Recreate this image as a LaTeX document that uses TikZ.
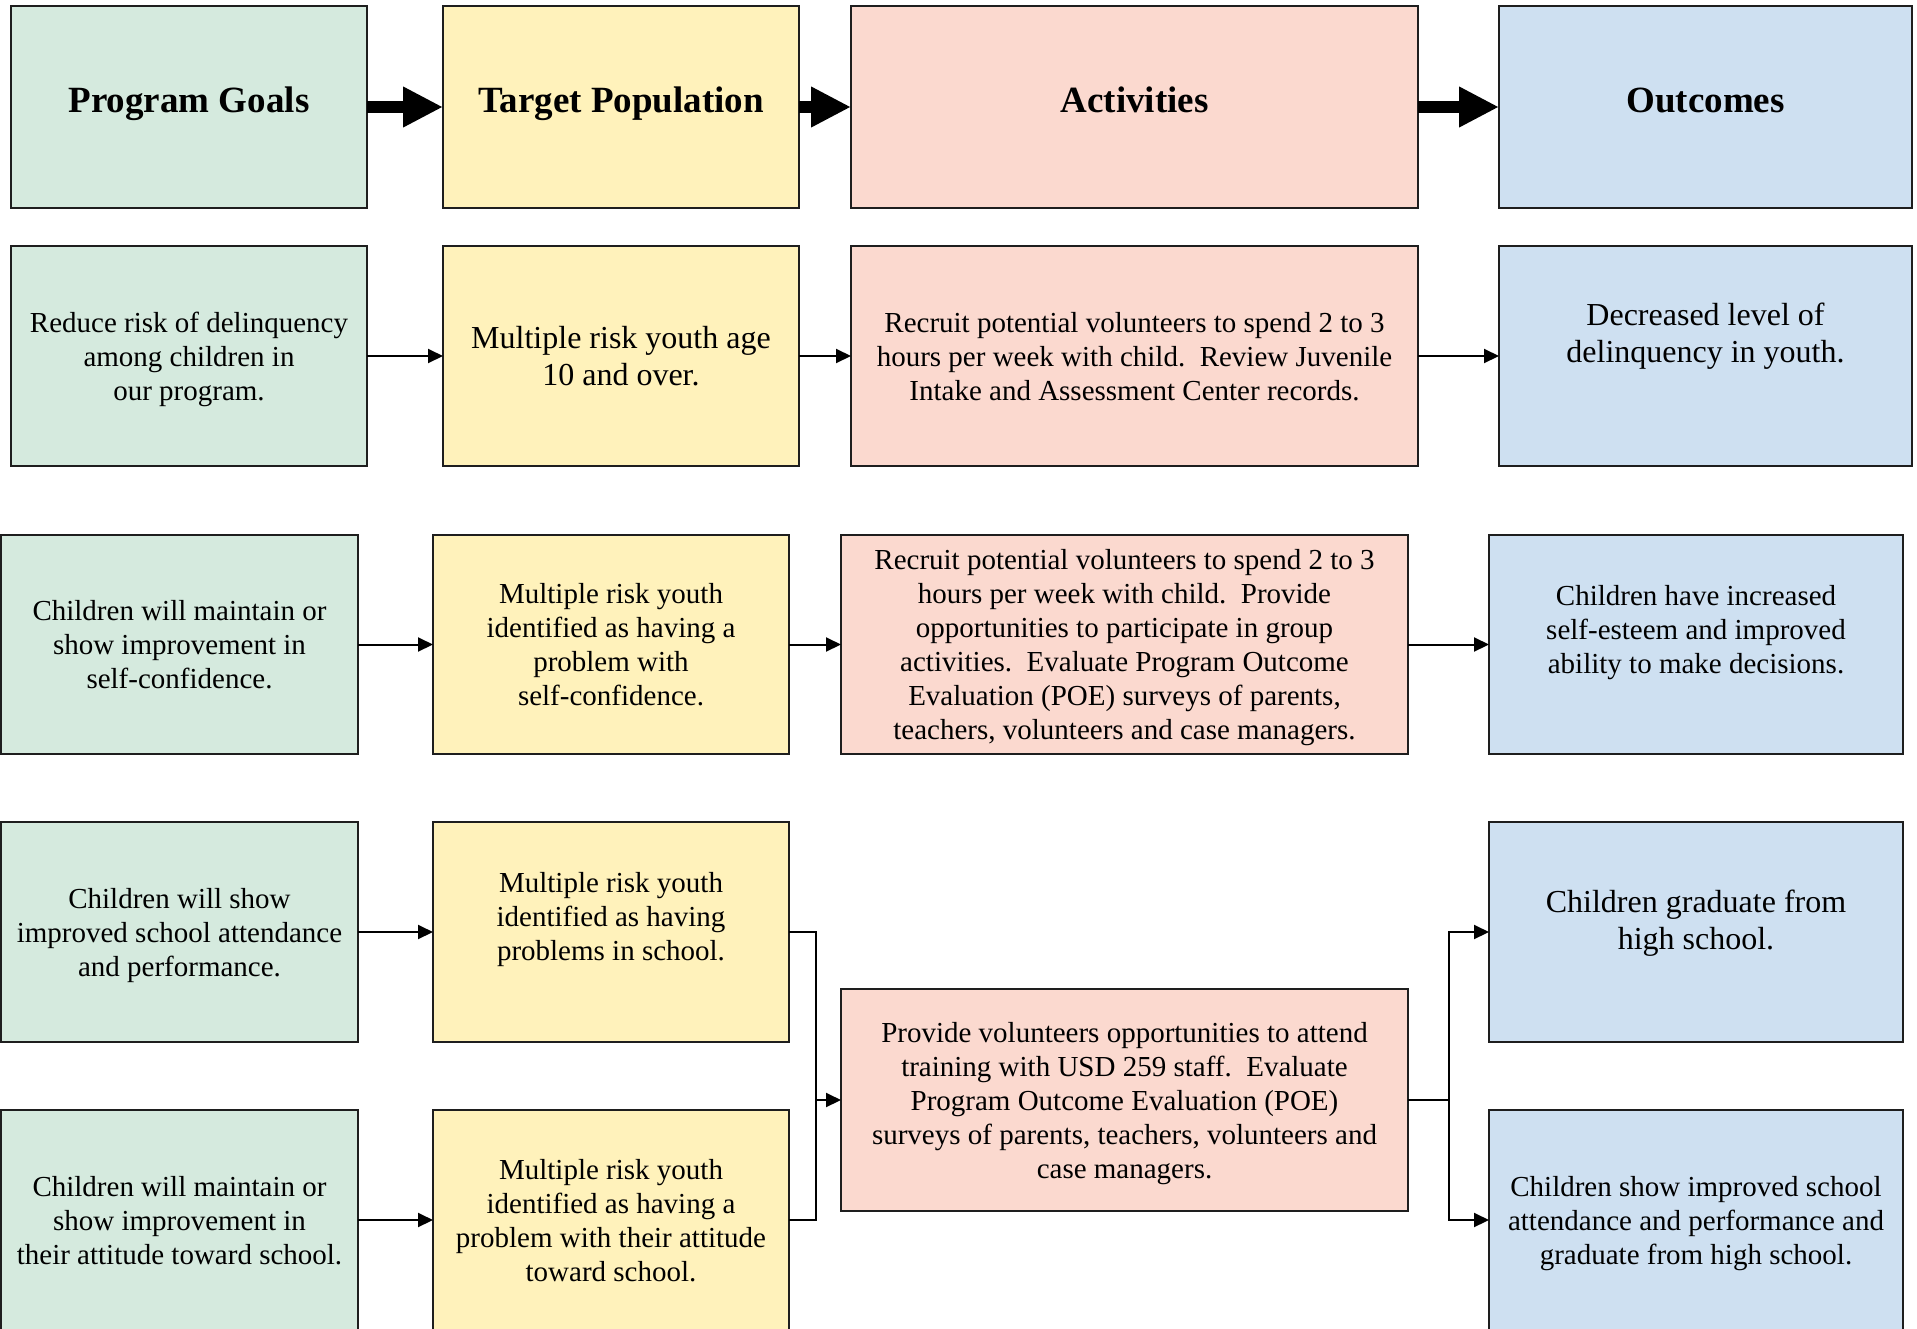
\documentclass[tikz,border=0pt]{standalone}
\usepackage{fontspec}
\setmainfont{Liberation Serif}
\usetikzlibrary{arrows.meta}
\definecolor{cg}{RGB}{213,234,222}
\definecolor{cy}{RGB}{255,242,187}
\definecolor{cr}{RGB}{251,217,207}
\definecolor{cb}{RGB}{206,224,241}
\definecolor{edge}{RGB}{30,30,30}
\tikzset{
  box/.style={draw=edge, line width=2pt, anchor=north west, inner sep=0pt, outer sep=0pt,
    align=center, font=\fontsize{29}{34}\selectfont, text=black, text depth=0pt},
  bigtxt/.style={font=\fontsize{32}{37}\selectfont},
  headtxt/.style={font=\fontsize{37}{42}\selectfont\bfseries, text height=26pt, text depth=14.5pt},
  gb/.style={box, fill=cg},
  yb/.style={box, fill=cy},
  rb/.style={box, fill=cr},
  bb/.style={box, fill=cb},
  fatarrow/.style={line width=12.7pt, draw=black, -{Triangle[length=40pt,width=38pt]}},
  thinarrow/.style={line width=2pt, draw=black, -{Triangle[length=15pt,width=14pt]}},
  thinline/.style={line width=2pt, draw=black},
}
\begin{document}
\begin{tikzpicture}[x=1pt,y=-1pt]
\useasboundingbox (0,0) rectangle (1917,1328);

% header row
\node[gb,headtxt,minimum width=356pt,minimum height=202pt] (hg) at (11,6) {Program Goals};
\node[yb,headtxt,minimum width=356pt,minimum height=202pt] (hy) at (443,6) {Target Population};
\node[rb,headtxt,minimum width=567pt,minimum height=202pt] (hr) at (851,6) {Activities};
\node[bb,headtxt,minimum width=413pt,minimum height=202pt] (hb) at (1499,6) {Outcomes};

% row 2
\node[gb,minimum width=356pt,minimum height=220pt] (g2) at (11,246)
  {Reduce risk of delinquency\\among children in\\our program.};
\node[yb,bigtxt,minimum width=356pt,minimum height=220pt] (y2) at (443,246)
  {Multiple risk youth age\\10 and over.};
\node[rb,minimum width=567pt,minimum height=220pt] (r2) at (851,246)
  {Recruit potential volunteers to spend 2 to 3\\hours per week with child.~~Review Juvenile\\Intake and Assessment Center records.};
\node[bb,bigtxt,text depth=47pt,minimum width=413pt,minimum height=220pt] (b2) at (1499,246)
  {Decreased level of\\delinquency in youth.};

% row 3
\node[gb,minimum width=357pt,minimum height=219pt] (g3) at (1,535)
  {Children will maintain or\\show improvement in\\self-confidence.};
\node[yb,minimum width=356pt,minimum height=219pt] (y3) at (433,535)
  {Multiple risk youth\\identified as having a\\problem with\\self-confidence.};
\node[rb,minimum width=567pt,minimum height=219pt] (r3) at (841,535)
  {Recruit potential volunteers to spend 2 to 3\\hours per week with child.~~Provide\\opportunities to participate in group\\activities.~~Evaluate Program Outcome\\Evaluation (POE) surveys of parents,\\teachers, volunteers and case managers.};
\node[bb,text depth=30pt,minimum width=414pt,minimum height=219pt] (b3) at (1489,535)
  {Children have increased\\self-esteem and improved\\ability to make decisions.};

% row 4
\node[gb,minimum width=357pt,minimum height=220pt] (g4) at (1,822)
  {Children will show\\improved school attendance\\and performance.};
\node[yb,text depth=31pt,minimum width=356pt,minimum height=220pt] (y4) at (433,822)
  {Multiple risk youth\\identified as having\\problems in school.};
\node[bb,bigtxt,text depth=25pt,minimum width=414pt,minimum height=220pt] (b4) at (1489,822)
  {Children graduate from\\high school.};

% row 5
\node[gb,minimum width=357pt,minimum height=220pt] (g5) at (1,1110)
  {Children will maintain or\\show improvement in\\their attitude toward school.};
\node[yb,minimum width=356pt,minimum height=220pt] (y5) at (433,1110)
  {Multiple risk youth\\identified as having a\\problem with their attitude\\toward school.};
\node[bb,minimum width=414pt,minimum height=220pt] (b5) at (1489,1110)
  {Children show improved school\\attendance and performance and\\graduate from high school.};

% merged activity
\node[rb,minimum width=567pt,minimum height=222pt] (r45) at (841,989)
  {Provide volunteers opportunities to attend\\training with USD 259 staff.~~Evaluate\\Program Outcome Evaluation (POE)\\surveys of parents, teachers, volunteers and\\case managers.};

% header arrows
\draw[fatarrow] (hg.east) -- (hy.west);
\draw[fatarrow] (hy.east) -- (hr.west);
\draw[fatarrow] (hr.east) -- (hb.west);

% row arrows
\draw[thinarrow] (g2.east) -- (y2.west);
\draw[thinarrow] (y2.east) -- (r2.west);
\draw[thinarrow] (r2.east) -- (b2.west);
\draw[thinarrow] (g3.east) -- (y3.west);
\draw[thinarrow] (y3.east) -- (r3.west);
\draw[thinarrow] (r3.east) -- (b3.west);
\draw[thinarrow] (g4.east) -- (y4.west);
\draw[thinarrow] (g5.east) -- (y5.west);

% merge / split connectors
\coordinate (jl) at (816,1100);
\coordinate (jr) at (1449,1100);
\draw[thinline] (y4.east) -| (jl);
\draw[thinline] (y5.east) -| (jl);
\draw[thinarrow] (jl) -- (r45.west);
\draw[thinline] (r45.east) -- (jr);
\draw[thinarrow] (jr) |- (b4.west);
\draw[thinarrow] (jr) |- (b5.west);
\end{tikzpicture}
\end{document}
